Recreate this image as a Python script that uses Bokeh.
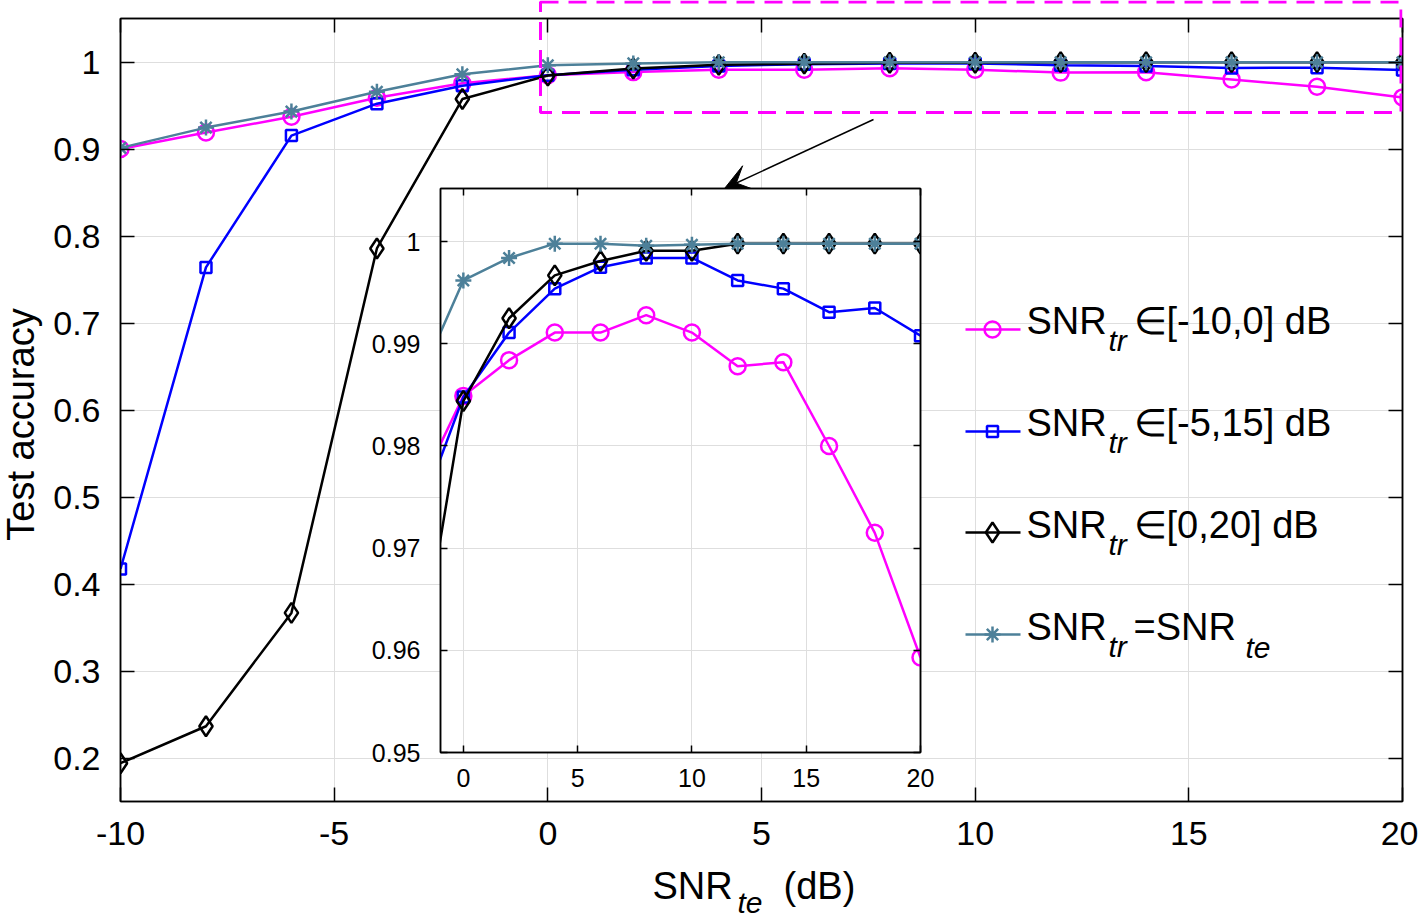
import numpy as np
from bokeh.plotting import figure
from bokeh.models import (Range1d, FixedTicker, LinearAxis, CustomJSTickFormatter,
                          Label, Arrow, VeeHead)
from bokeh.layouts import column
from bokeh.embed import file_html
from bokeh.resources import INLINE
from bokeh.core.properties import value

# ---------------- data ----------------
snr_te = [-10, -8, -6, -4, -2, 0, 2, 4, 6, 8, 10, 12, 14, 16, 18, 20]
acc_tr_m10_0 = [0.900, 0.919, 0.937, 0.959, 0.9755, 0.9849, 0.9884, 0.9911, 0.9911,
                0.9928, 0.9911, 0.9878, 0.9882, 0.9800, 0.9715, 0.9593]
acc_tr_m5_15 = [0.4173, 0.7639, 0.9154, 0.9521, 0.9728, 0.9848, 0.9911, 0.9954, 0.9975,
                0.9984, 0.9984, 0.9962, 0.9954, 0.9931, 0.9935, 0.9908]
acc_tr_0_20 = [0.1940, 0.2365, 0.3668, 0.7857, 0.9574, 0.9844, 0.9925, 0.9967, 0.9981,
               0.9991, 0.9991, 0.9998, 0.9998, 0.9998, 0.9998, 0.9998]
acc_tr_eq_te = [0.9013, 0.9246, 0.9430, 0.9659, 0.9860, 0.9962, 0.9984, 0.9998, 0.9998,
                0.9996, 0.9997, 0.9998, 0.9998, 0.9998, 0.9998, 0.9998]

x_ticks = [-10, -5, 0, 5, 10, 15, 20]
y_ticks = [0.2, 0.3, 0.4, 0.5, 0.6, 0.7, 0.8, 0.9, 1.0]
inset_x_ticks = [0, 5, 10, 15, 20]
inset_y_ticks = [0.95, 0.96, 0.97, 0.98, 0.99, 1.0]

legend_sub = ["tr", "tr", "tr", "tr"]
legend_rest = ["\u2208[-10,0] dB", "\u2208[-5,15] dB", "\u2208[0,20] dB", "=SNR"]

# ---------------- styles ----------------
FONT = "Liberation Sans"
MAGENTA, BLUE, BLACK, GRAY = "#ff00ff", "#0000ff", "#000000", "#4d8099"
GRID = "#dedede"
LW = 2.5
BIG, SMALL = 38, 30
BIG_SHIFT, SMALL_SHIFT = 15, 12       # Bokeh places 'alphabetic' text lower; compensate

W, H = 1418, 921
RB = 16                                # common right border (layout aligns them)
FL, FR, FT, FB = 120, W - RB, 18, 801  # main frame (px)
X0, X1, Y0, Y1 = -10, 20, 0.15, 1.05
IFL, IFR, IFT, IFB = 440, 920, 188, 752      # inset frame (px)
IX0, IX1, IY0, IY1 = -1, 20, 0.95, 1.0052


def dx(px):
    return X0 + (px - FL) / (FR - FL) * (X1 - X0)


def dy(py):
    return Y1 - (py - FT) / (FB - FT) * (Y1 - Y0)


num_fmt = CustomJSTickFormatter(code="return String(tick)")
blank_fmt = CustomJSTickFormatter(code="return ''")


def style_axis(ax, ticks, tick_len, font_size, standoff, labels=True):
    ax.ticker = FixedTicker(ticks=ticks)
    ax.formatter = num_fmt if labels else blank_fmt
    ax.major_tick_in = tick_len
    ax.major_tick_out = 0
    ax.minor_tick_line_color = None
    ax.major_tick_line_color = "black"
    ax.major_tick_line_width = 1.5
    ax.axis_line_color = "black"
    ax.axis_line_width = 1.5
    ax.major_label_text_font = FONT
    ax.major_label_text_font_size = font_size if labels else "1px"
    ax.major_label_text_color = "black"
    ax.major_label_standoff = standoff if labels else 0


SPECS = [
    (acc_tr_m10_0, MAGENTA, "circle", 16),
    (acc_tr_m5_15, BLUE, "square", 11),
    (acc_tr_0_20, BLACK, "diamond", 20),
    (acc_tr_eq_te, GRAY, "asterisk", 16),
]


def add_series(fig):
    for ys, col, mk, sz in SPECS:
        fig.line(snr_te, ys, line_color=col, line_width=LW)
        fig.scatter(snr_te, ys, marker=mk, size=sz, line_color=col,
                    fill_color=None, line_width=LW)


def blank_overlay(width, height, xr, yr):
    f = figure(width=width, height=height, x_range=Range1d(*xr), y_range=Range1d(*yr),
               output_backend="svg", toolbar_location=None,
               min_border_left=FL, min_border_right=RB, min_border_top=0,
               min_border_bottom=0, x_axis_type=None, y_axis_type=None)
    f.background_fill_color = None
    f.border_fill_color = None
    f.outline_line_color = None
    f.xgrid.visible = False
    f.ygrid.visible = False
    return f


# ---------------- main figure ----------------
p = figure(width=W, height=H, x_range=Range1d(X0, X1), y_range=Range1d(Y0, Y1),
           output_backend="svg", toolbar_location=None,
           min_border_left=FL, min_border_right=RB,
           min_border_top=FT, min_border_bottom=H - FB)
p.background_fill_color = "white"
p.border_fill_color = "white"
p.outline_line_color = "black"
p.outline_line_width = 1.5

style_axis(p.xaxis[0], x_ticks, 14, "34px", 20)
style_axis(p.yaxis[0], y_ticks, 14, "34px", 20)
ax_r = LinearAxis()
style_axis(ax_r, y_ticks, 14, "34px", 0, labels=False)
p.add_layout(ax_r, "right")
ax_t = LinearAxis()
style_axis(ax_t, x_ticks, 14, "34px", 0, labels=False)
p.add_layout(ax_t, "above")

p.xgrid.grid_line_color = GRID
p.ygrid.grid_line_color = GRID
p.xgrid.ticker = FixedTicker(ticks=x_ticks)
p.ygrid.ticker = FixedTicker(ticks=y_ticks)

add_series(p)

p.add_layout(Arrow(end=VeeHead(size=26, fill_color="black", line_color="black"),
                   x_start=dx(873), y_start=dy(119), x_end=dx(724), y_end=dy(188),
                   line_color="black", line_width=1.5))

# legend (drawn manually for sub-scripted labels)
leg_line_y = [329, 431, 532, 634]
leg_base_y = [335, 437, 539, 641]
for i, (_, col, mk, sz) in enumerate(SPECS):
    yy = dy(leg_line_y[i])
    p.line([dx(965), dx(1020)], [yy, yy], line_color=col, line_width=LW)
    p.scatter([dx(992)], [yy], marker=mk, size=sz, line_color=col, fill_color=None,
              line_width=LW)
    p.add_layout(Label(x=dx(1026), y=dy(leg_base_y[i] - BIG_SHIFT), text="SNR",
                       text_font=FONT, text_font_size=f"{BIG}px",
                       text_baseline="alphabetic", text_align="left", text_color="black"))
    p.add_layout(Label(x=dx(1108), y=dy(leg_base_y[i] + 17 - SMALL_SHIFT),
                       text=legend_sub[i], text_font=FONT, text_font_size=f"{SMALL}px",
                       text_font_style="italic", text_baseline="alphabetic",
                       text_align="left", text_color="black"))
    p.add_layout(Label(x=dx(1133), y=dy(leg_base_y[i] - BIG_SHIFT), text=legend_rest[i],
                       text_font=FONT, text_font_size=f"{BIG}px",
                       text_baseline="alphabetic", text_align="left", text_color="black"))
p.add_layout(Label(x=dx(1245), y=dy(leg_base_y[3] + 18 - SMALL_SHIFT), text="te",
                   text_font=FONT, text_font_size=f"{SMALL}px", text_font_style="italic",
                   text_baseline="alphabetic", text_align="left", text_color="black"))

# ---------------- inset figure ----------------
BL, BT, BB = FL, 10, 52
IW, IH = BL + (IFR - IFL) + RB, BT + (IFB - IFT) + BB
pi = figure(width=IW, height=IH,
            x_range=Range1d(IX0, IX1), y_range=Range1d(IY0, IY1),
            output_backend="svg", toolbar_location=None,
            min_border_left=BL, min_border_right=RB, min_border_top=BT, min_border_bottom=BB)
pi.background_fill_color = "white"
pi.border_fill_color = None
pi.outline_line_color = "black"
pi.outline_line_width = 1.5
style_axis(pi.xaxis[0], inset_x_ticks, 7, "25px", 16)
style_axis(pi.yaxis[0], inset_y_ticks, 7, "25px", 20)
ia_r = LinearAxis()
style_axis(ia_r, inset_y_ticks, 7, "25px", 0, labels=False)
pi.add_layout(ia_r, "right")
ia_t = LinearAxis()
style_axis(ia_t, inset_x_ticks, 7, "25px", 0, labels=False)
pi.add_layout(ia_t, "above")
pi.xgrid.grid_line_color = GRID
pi.ygrid.grid_line_color = GRID
pi.xgrid.ticker = FixedTicker(ticks=inset_x_ticks)
pi.ygrid.ticker = FixedTicker(ticks=inset_y_ticks)
add_series(pi)
pi_top = IFT - BT
pi.margin = (pi_top - H, 0, 0, IFL - BL)

# ---------------- overlay A: axis titles (frame spans window x 0..880) ----------------
OA_W = 880
ova = blank_overlay(FL + OA_W + RB, H, (0, OA_W), (0, H))
ova.margin = (-(pi_top + IH), 0, 0, -FL)
TXT = dict(text_font=value(FONT), text_color="black", text_baseline="alphabetic")
ova.text(x=[652], y=[H - (900 - BIG_SHIFT)], text=["SNR"], text_font_size=f"{BIG}px",
         text_align="left", **TXT)
ova.text(x=[737], y=[H - (914 - SMALL_SHIFT)], text=["te"], text_font_size=f"{SMALL}px",
         text_font_style="italic", text_align="left", **TXT)
ova.text(x=[783], y=[H - (900 - BIG_SHIFT)], text=["(dB)"], text_font_size=f"{BIG}px",
         text_align="left", **TXT)
ova.text(x=[35 - BIG_SHIFT], y=[H - 424], text=["Test accuracy"], text_font_size=f"{BIG}px",
         text_align="center", angle=np.pi / 2, **TXT)

# ---------------- overlay B: dashed zoom box (frame spans window x 530..FR) ----------------
OB_L, OB_H = 530, 120
ovb = blank_overlay(W - (OB_L - FL), OB_H, (OB_L, FR), (0, OB_H))
ovb.margin = (-H, 0, 0, OB_L - FL)
ovb.quad(left=[540], right=[FR - 1.5], top=[OB_H - 1.5], bottom=[OB_H - 112], fill_alpha=0,
         line_color=MAGENTA, line_width=3, line_dash="18 10")

layout = column(p, pi, ova, ovb, spacing=0)

open("out.html", "w").write(file_html(layout, INLINE))
